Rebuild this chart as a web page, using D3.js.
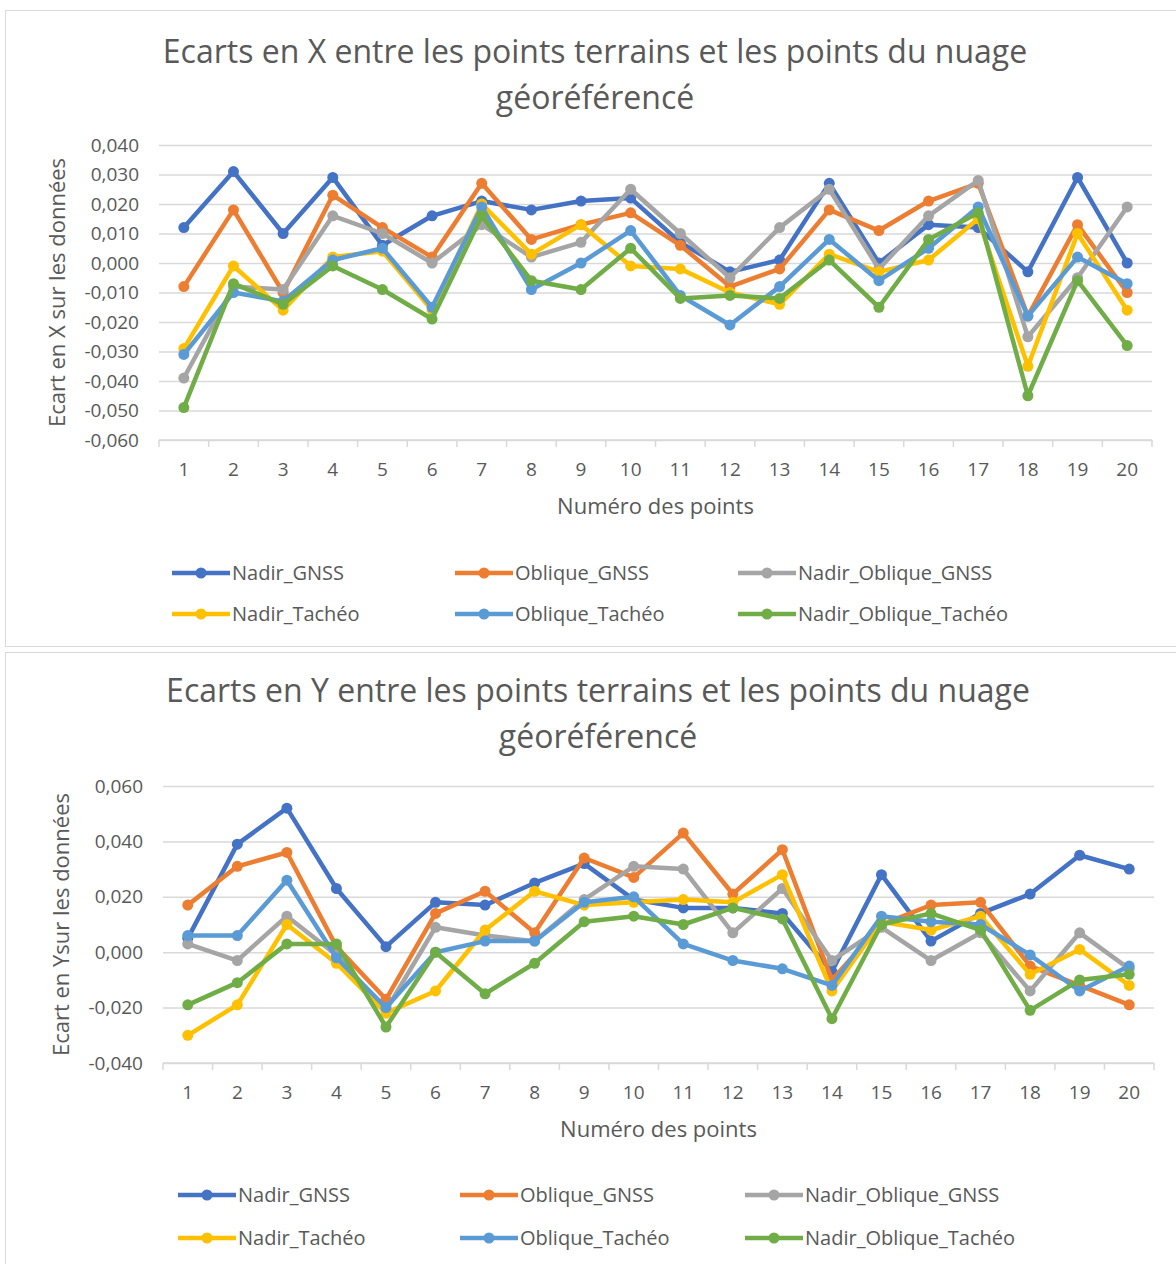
<!DOCTYPE html>
<html>
<head>
<meta charset="utf-8">
<script src="https://cdn.jsdelivr.net/npm/d3@7"></script>
<style>
  body { margin: 0; background: #fff; }
  svg text { font-family: "Open Sans", sans-serif; fill: #595959; }
</style>
</head>
<body>
<svg id="chart" width="1176" height="1264"></svg>
<script>
// point numbers along the x axis
var pointNumbers = d3.range(1, 21);

var seriesNames = ["Nadir_GNSS", "Oblique_GNSS", "Nadir_Oblique_GNSS",
                   "Nadir_Tachéo", "Oblique_Tachéo", "Nadir_Oblique_Tachéo"];
var seriesColors = ["#4472C4", "#ED7D31", "#A5A5A5", "#FFC000", "#5B9BD5", "#70AD47"];

// ecarts en X
var xNadirGnss         = [0.012, 0.031, 0.010, 0.029, 0.006, 0.016, 0.021, 0.018, 0.021, 0.022, 0.007, -0.003, 0.001, 0.027, 0.000, 0.013, 0.012, -0.003, 0.029, 0.000];
var xObliqueGnss       = [-0.008, 0.018, -0.010, 0.023, 0.012, 0.002, 0.027, 0.008, 0.013, 0.017, 0.006, -0.008, -0.002, 0.018, 0.011, 0.021, 0.027, -0.018, 0.013, -0.010];
var xNadirObliqueGnss  = [-0.039, -0.008, -0.009, 0.016, 0.010, 0.000, 0.013, 0.002, 0.007, 0.025, 0.010, -0.005, 0.012, 0.025, -0.002, 0.016, 0.028, -0.025, -0.005, 0.019];
var xNadirTacheo       = [-0.029, -0.001, -0.016, 0.002, 0.004, -0.016, 0.020, 0.003, 0.013, -0.001, -0.002, -0.010, -0.014, 0.003, -0.003, 0.001, 0.015, -0.035, 0.010, -0.016];
var xObliqueTacheo     = [-0.031, -0.010, -0.013, 0.001, 0.005, -0.015, 0.019, -0.009, 0.000, 0.011, -0.011, -0.021, -0.008, 0.008, -0.006, 0.005, 0.019, -0.018, 0.002, -0.007];
var xNadirObliqueTach  = [-0.049, -0.007, -0.014, -0.001, -0.009, -0.019, 0.016, -0.006, -0.009, 0.005, -0.012, -0.011, -0.012, 0.001, -0.015, 0.008, 0.017, -0.045, -0.006, -0.028];

// ecarts en Y
var yNadirGnss         = [0.005, 0.039, 0.052, 0.023, 0.002, 0.018, 0.017, 0.025, 0.032, 0.019, 0.016, 0.016, 0.014, -0.007, 0.028, 0.004, 0.014, 0.021, 0.035, 0.030];
var yObliqueGnss       = [0.017, 0.031, 0.036, 0.002, -0.017, 0.014, 0.022, 0.007, 0.034, 0.027, 0.043, 0.021, 0.037, -0.010, 0.010, 0.017, 0.018, -0.005, -0.012, -0.019];
var yNadirObliqueGnss  = [0.003, -0.003, 0.013, -0.001, -0.021, 0.009, 0.006, 0.004, 0.019, 0.031, 0.030, 0.007, 0.023, -0.003, 0.009, -0.003, 0.007, -0.014, 0.007, -0.006];
var yNadirTacheo       = [-0.030, -0.019, 0.010, -0.004, -0.022, -0.014, 0.008, 0.022, 0.017, 0.018, 0.019, 0.018, 0.028, -0.014, 0.011, 0.008, 0.013, -0.008, 0.001, -0.012];
var yObliqueTacheo     = [0.006, 0.006, 0.026, -0.002, -0.020, 0.000, 0.004, 0.004, 0.018, 0.020, 0.003, -0.003, -0.006, -0.012, 0.013, 0.011, 0.010, -0.001, -0.014, -0.005];
var yNadirObliqueTach  = [-0.019, -0.011, 0.003, 0.003, -0.027, 0.000, -0.015, -0.004, 0.011, 0.013, 0.010, 0.016, 0.012, -0.024, 0.010, 0.014, 0.008, -0.021, -0.010, -0.008];

var xTicks = [0.04, 0.03, 0.02, 0.01, 0, -0.01, -0.02, -0.03, -0.04, -0.05, -0.06];
var yTicks = [0.06, 0.04, 0.02, 0, -0.02, -0.04];

var fr = d3.formatLocale({decimal: ",", thousands: " ", grouping: [3], currency: ["", " €"], minus: "-"});
var fmt = fr.format(".3f");

var svg = d3.select("#chart");

// chart frames
svg.append("rect").attr("x", 5.5).attr("y", 10.5).attr("width", 1180).attr("height", 636)
    .attr("fill", "#fff").attr("stroke", "#d9d9d9");
svg.append("rect").attr("x", 5.5).attr("y", 652.5).attr("width", 1180).attr("height", 640)
    .attr("fill", "#fff").attr("stroke", "#d9d9d9");

function drawChart(cfg) {
  var x = d3.scaleBand().domain(pointNumbers).range([cfg.left, cfg.right]);
  var y = d3.scaleLinear().domain(cfg.domain).range([cfg.bottom, cfg.top]);

  var g = svg.append("g");

  // title
  g.selectAll(".title").data(cfg.title).enter().append("text")
      .attr("x", cfg.titleX).attr("y", function(d, i) { return cfg.titleY + i * 46; })
      .attr("text-anchor", "middle").attr("font-size", 32)
      .text(function(d) { return d; });

  // gridlines + y labels
  var yAxis = g.append("g")
      .attr("transform", "translate(" + cfg.left + ",0)")
      .call(d3.axisLeft(y).tickValues(cfg.ticks).tickFormat(fmt)
        .tickSize(-(cfg.right - cfg.left)).tickPadding(20));
  yAxis.select(".domain").remove();
  yAxis.selectAll("line").attr("stroke", "#d9d9d9").attr("stroke-width", 1.5);
  yAxis.selectAll("text").attr("font-size", 19).style("fill", "#595959");

  // x axis line with tick marks between categories
  var yb = y(cfg.domain[0]);
  g.append("line").attr("x1", cfg.left).attr("x2", cfg.right).attr("y1", yb).attr("y2", yb)
      .attr("stroke", "#d9d9d9").attr("stroke-width", 1.5);
  var bounds = pointNumbers.map(function(d) { return x(d); }).concat([x(20) + x.bandwidth()]);
  g.selectAll(".xt").data(bounds).enter().append("line")
      .attr("x1", function(d) { return d; }).attr("x2", function(d) { return d; })
      .attr("y1", yb).attr("y2", yb + 7)
      .attr("stroke", "#d9d9d9").attr("stroke-width", 1.5);
  g.selectAll(".xl").data(pointNumbers).enter().append("text")
      .attr("x", function(d) { return x(d) + x.bandwidth() / 2; })
      .attr("y", yb + 36)
      .attr("text-anchor", "middle").attr("font-size", 19)
      .text(function(d) { return d; });

  // axis titles
  g.append("text")
      .attr("x", (cfg.left + cfg.right) / 2).attr("y", yb + 74)
      .attr("text-anchor", "middle").attr("font-size", 22)
      .text("Numéro des points");
  g.append("text")
      .attr("transform", "translate(" + cfg.yTitleX + "," + (cfg.top + cfg.bottom) / 2 + ") rotate(-90)")
      .attr("text-anchor", "middle").attr("font-size", 22)
      .text(cfg.yTitle);

  // series
  var line = d3.line()
      .x(function(d, i) { return x(pointNumbers[i]) + x.bandwidth() / 2; })
      .y(function(d) { return y(d); });

  cfg.series.forEach(function(vals, k) {
    g.append("path").datum(vals)
        .attr("d", line)
        .attr("fill", "none")
        .attr("stroke", seriesColors[k])
        .attr("stroke-width", 4.5)
        .attr("stroke-linejoin", "round");
    g.selectAll(".m" + k).data(vals).enter().append("circle")
        .attr("cx", function(d, i) { return x(pointNumbers[i]) + x.bandwidth() / 2; })
        .attr("cy", function(d) { return y(d); })
        .attr("r", 5.5)
        .attr("fill", seriesColors[k]);
  });

  // legend
  seriesNames.forEach(function(name, k) {
    var lx = cfg.legendX[k % 3], ly = cfg.legendY[Math.floor(k / 3)];
    g.append("line").attr("x1", lx).attr("x2", lx + 58).attr("y1", ly).attr("y2", ly)
        .attr("stroke", seriesColors[k]).attr("stroke-width", 4.5);
    g.append("circle").attr("cx", lx + 29).attr("cy", ly).attr("r", 5.5).attr("fill", seriesColors[k]);
    g.append("text").attr("x", lx + 60).attr("y", ly + 7)
        .attr("font-size", 20).text(name);
  });
}

drawChart({
  left: 159, right: 1152, top: 145, bottom: 440,
  domain: [-0.06, 0.04], ticks: xTicks,
  title: ["Ecarts en X entre les points terrains et les points du nuage", "géoréférencé"],
  titleX: 595, titleY: 63,
  yTitle: "Ecart en X sur les données", yTitleX: 65,
  series: [xNadirGnss, xObliqueGnss, xNadirObliqueGnss, xNadirTacheo, xObliqueTacheo, xNadirObliqueTach],
  legendX: [172, 455, 738], legendY: [573, 614]
});

drawChart({
  left: 163, right: 1154, top: 786, bottom: 1063,
  domain: [-0.04, 0.06], ticks: yTicks,
  title: ["Ecarts en Y entre les points terrains et les points du nuage", "géoréférencé"],
  titleX: 598, titleY: 702,
  yTitle: "Ecart en Ysur les données", yTitleX: 69,
  series: [yNadirGnss, yObliqueGnss, yNadirObliqueGnss, yNadirTacheo, yObliqueTacheo, yNadirObliqueTach],
  legendX: [178, 460, 745], legendY: [1195, 1238]
});
</script>
</body>
</html>
